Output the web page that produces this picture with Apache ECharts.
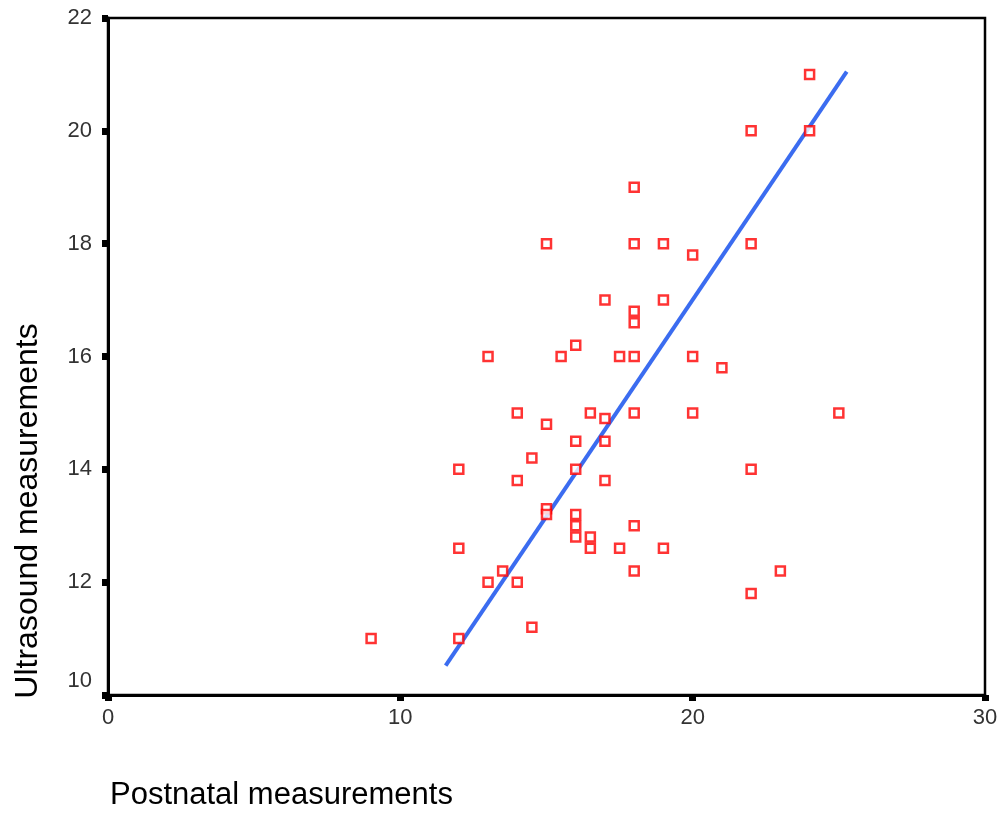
<!DOCTYPE html>
<html>
<head>
<meta charset="utf-8">
<script src="https://cdn.jsdelivr.net/npm/echarts@6/dist/echarts.min.js"></script>
<style>
  html, body { margin: 0; padding: 0; background: #fff; }
  #chart { width: 1003px; height: 814px; }
</style>
</head>
<body>
<div id="chart"></div>
<script>
// postnatal (x) vs ultrasound (y)
var postnatal = [9, 12, 12, 12, 13, 13, 13.5, 14, 14, 14, 14.5, 14.5, 15, 15, 15, 15,
  15.5, 16, 16, 16, 16, 16, 16, 16.5, 16.5, 16.5, 17, 17, 17, 17, 17.5, 17.5,
  18, 18, 18, 18, 18, 18, 18, 18, 19, 19, 19, 20, 20, 20, 21, 22, 22, 22, 22, 23, 24, 24, 25];
var ultrasound = [11, 11, 12.6, 14, 16, 12, 12.2, 12, 13.8, 15, 11.2, 14.2, 18, 14.8, 13.3, 13.2,
  16, 16.2, 14.5, 14, 13.2, 13, 12.8, 12.8, 12.6, 15, 17, 14.9, 14.5, 13.8, 16, 12.6,
  19, 18, 16.8, 16.6, 16, 15, 13, 12.2, 18, 17, 12.6, 17.8, 16, 15, 15.8, 20, 18, 14, 11.8, 12.2, 21, 20, 15];
// fit line ends
var fitX = [11.55, 25.27];
var fitY = [10.52, 21.05];

var xTicks = [0, 10, 20, 30];
var yTicks = [10, 12, 14, 16, 18, 20, 22];

var pts = postnatal.map(function (x, i) { return [x, ultrasound[i]]; });
var fit = fitX.map(function (x, i) { return [x, fitY[i]]; });

var myChart = echarts.init(document.getElementById('chart'));
var font = 'Liberation Sans, Arial, sans-serif';
var option = {
    backgroundColor: '#fff',
    animation: false,
    grid: {
        left: 108, right: 18, top: 18, bottom: 119,
        show: true, borderColor: '#000', borderWidth: 2.5, backgroundColor: 'transparent'
    },
    xAxis: {
        type: 'value',
        min: xTicks[0], max: xTicks[xTicks.length - 1], interval: 10,
        splitLine: { show: false },
        axisLine: { lineStyle: { color: '#000', width: 3 } },
        axisTick: { inside: false, length: 6, lineStyle: { color: '#000', width: 7 } },
        axisLabel: { color: '#333', fontSize: 22, fontFamily: font, margin: 12 }
    },
    yAxis: {
        type: 'value',
        min: yTicks[0], max: yTicks[yTicks.length - 1], interval: 2,
        splitLine: { show: false },
        axisLine: { lineStyle: { color: '#000', width: 3 } },
        axisTick: { inside: false, length: 6, lineStyle: { color: '#000', width: 7 } },
        axisLabel: {
            color: '#333', fontSize: 22, fontFamily: font, margin: 16,
            formatter: function (v) { return v === 10 ? '{lo|10}' : v; },
            rich: { lo: { fontSize: 22, fontFamily: font, color: '#333', padding: [0, 0, 28, 0] } }
        }
    },
    graphic: [
        {
            type: 'text', x: 28, y: 511, rotation: Math.PI / 2,
            style: {
                text: 'Ultrasound measurements', fill: '#000',
                font: '32px ' + font, textAlign: 'center', textVerticalAlign: 'middle'
            }
        },
        {
            type: 'text', x: 110, y: 795,
            style: {
                text: 'Postnatal measurements', fill: '#000',
                font: '31px ' + font, textAlign: 'left', textVerticalAlign: 'middle'
            }
        }
    ],
    series: [
        {
            type: 'scatter',
            data: pts,
            symbol: 'rect',
            symbolSize: 9,
            itemStyle: { color: '#fff', borderColor: '#ff0000', borderWidth: 2.5 },
            z: 3
        },
        {
            type: 'line',
            data: fit,
            symbol: 'none',
            lineStyle: { color: '#3b6cf0', width: 4 },
            z: 2
        }
    ]
};
myChart.setOption(option);
</script>
</body>
</html>
